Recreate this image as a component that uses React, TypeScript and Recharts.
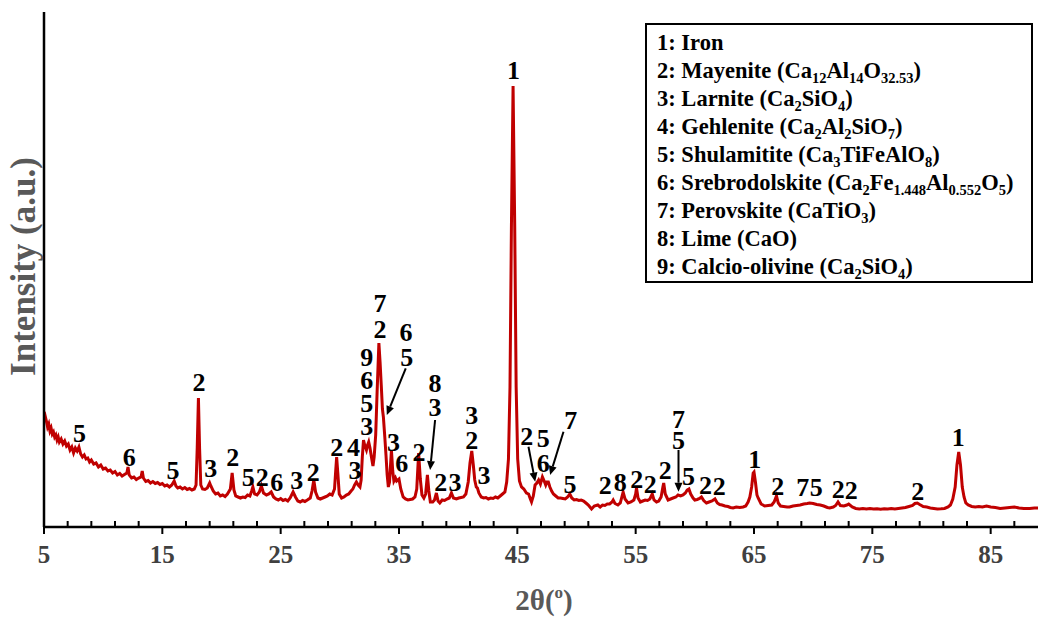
import React from 'react';
import { LineChart, Line, XAxis, YAxis, ReferenceDot, ReferenceLine } from 'recharts';

// XRD scan, [2θ, counts]
const scanLow: [number, number][] = [
  [5.0, 1080], [5.1, 1110], [5.2, 1060], [5.3, 1000], [5.4, 1030], [5.5, 960], [5.6, 990], [5.7, 930],
  [5.8, 950], [5.9, 900], [6.0, 920], [6.1, 870], [6.2, 900], [6.3, 850], [6.45, 880], [6.6, 830],
  [6.75, 860], [6.9, 810], [7.05, 830], [7.2, 770], [7.35, 800], [7.5, 740], [7.65, 790], [7.8, 760],
  [7.95, 800], [8.1, 730], [8.25, 700], [8.4, 720], [8.55, 680], [8.7, 690], [8.85, 650], [9.0, 670],
  [9.2, 630], [9.4, 640], [9.6, 600], [9.8, 620], [10.0, 580], [10.2, 590], [10.4, 560], [10.6, 570],
  [10.8, 540], [11.0, 555], [11.2, 520], [11.4, 535], [11.6, 510], [11.8, 525], [12.0, 540], [12.1, 600],
  [12.2, 520], [12.4, 490], [12.6, 500], [12.8, 475], [13.0, 490], [13.2, 500], [13.3, 560], [13.4, 490],
  [13.6, 455], [13.8, 465], [14.0, 440], [14.2, 455], [14.4, 435], [14.6, 445], [14.8, 425], [15.0, 435],
  [15.2, 410], [15.4, 420], [15.6, 400], [15.8, 420], [16.0, 460], [16.15, 410], [16.3, 390], [16.5, 400],
  [16.7, 380], [16.9, 395], [17.1, 375], [17.3, 385], [17.5, 370], [17.7, 380], [17.85, 420], [17.95, 800],
  [18.05, 1290], [18.15, 780], [18.25, 420], [18.4, 380], [18.6, 375], [18.8, 390], [19.0, 440], [19.1, 410],
  [19.3, 360], [19.5, 330], [19.7, 340], [19.9, 310], [20.1, 320], [20.3, 305], [20.5, 330], [20.75, 380],
  [20.9, 540], [21.05, 370], [21.2, 310], [21.4, 300], [21.6, 290], [21.8, 300], [22.0, 295],
];

const scanMid: [number, number][] = [
  [22.2, 320], [22.4, 310], [22.55, 360], [22.65, 400], [22.8, 330], [23.0, 320], [23.2, 350], [23.37, 410],
  [23.55, 340], [23.8, 320], [24.0, 330], [24.2, 350], [24.4, 300], [24.6, 280], [24.8, 270], [25.0, 285],
  [25.2, 265], [25.4, 275], [25.6, 260], [25.8, 290], [26.05, 350], [26.25, 300], [26.45, 260], [26.65, 250],
  [26.85, 265], [27.05, 255], [27.25, 270], [27.5, 290], [27.65, 360], [27.8, 470], [27.95, 350], [28.15, 290],
  [28.35, 280], [28.55, 290], [28.75, 300], [28.95, 310], [29.15, 330], [29.35, 320], [29.55, 380], [29.65, 560],
  [29.73, 700], [29.83, 540], [29.95, 330], [30.15, 290], [30.35, 300], [30.55, 320], [30.75, 330], [30.95, 360],
  [31.1, 380], [31.25, 420], [31.4, 450], [31.55, 420], [31.7, 400], [31.8, 470], [31.9, 700], [32.0, 870],
  [32.1, 820], [32.25, 770], [32.35, 820], [32.44, 850], [32.55, 790], [32.67, 700], [32.8, 610], [32.9, 700],
  [33.03, 920], [33.15, 1350], [33.3, 1840], [33.4, 1650], [33.5, 1420], [33.6, 1180], [33.68, 1100], [33.8, 900],
  [33.9, 720], [34.0, 520], [34.1, 400], [34.2, 450], [34.36, 770], [34.47, 560], [34.57, 460], [34.7, 490],
  [34.8, 460], [35.0, 480], [35.15, 380], [35.35, 300], [35.55, 280], [35.75, 270], [35.95, 275], [36.15, 280],
  [36.35, 300], [36.5, 380], [36.66, 740], [36.8, 480], [36.94, 320], [37.1, 290], [37.25, 330], [37.4, 520],
  [37.52, 360], [37.65, 250], [37.85, 250], [38.0, 270], [38.16, 340], [38.3, 260], [38.45, 240], [38.65, 270],
  [38.85, 265], [39.05, 280], [39.25, 290], [39.43, 340], [39.6, 290], [39.85, 280], [40.05, 290], [40.25, 295],
  [40.45, 300], [40.65, 330], [40.85, 450], [41.0, 640], [41.15, 760], [41.28, 620], [41.4, 470], [41.53, 400],
  [41.63, 390], [41.75, 340], [41.95, 300], [42.15, 290], [42.35, 295], [42.55, 280], [42.75, 290], [42.95, 285],
  [43.15, 300], [43.35, 290], [43.55, 310], [43.75, 330], [43.95, 350], [44.1, 450], [44.25, 680], [44.38, 1400],
  [44.5, 3000], [44.64, 4410], [44.78, 3000], [44.9, 1400], [45.03, 680], [45.18, 460], [45.35, 400],
];

const scanHigh: [number, number][] = [
  [45.55, 380], [45.77, 340], [45.95, 330], [46.1, 280], [46.2, 250], [46.35, 310], [46.5, 420], [46.65, 440],
  [46.8, 470], [46.95, 430], [47.12, 500], [47.27, 460], [47.4, 420], [47.5, 450], [47.62, 450], [47.75, 400],
  [47.9, 360], [48.05, 330], [48.25, 310], [48.45, 290], [48.65, 290], [48.85, 285], [49.05, 280], [49.25, 300],
  [49.43, 330], [49.6, 290], [49.8, 270], [50.0, 275], [50.2, 265], [50.4, 270], [50.6, 260], [50.8, 240],
  [51.0, 220], [51.27, 180], [51.5, 210], [51.8, 220], [52.0, 200], [52.2, 220], [52.4, 215], [52.6, 230],
  [52.8, 230], [53.0, 250], [53.1, 270], [53.25, 235], [53.5, 220], [53.7, 240], [53.94, 350], [54.1, 280],
  [54.36, 240], [54.6, 250], [54.85, 270], [55.0, 330], [55.07, 390], [55.2, 290], [55.4, 250], [55.6, 260],
  [55.8, 270], [56.0, 265], [56.2, 280], [56.4, 330], [56.55, 270], [56.76, 250], [56.95, 260], [57.15, 300],
  [57.3, 400], [57.37, 440], [57.5, 330], [57.74, 270], [57.95, 280], [58.16, 290], [58.4, 300], [58.58, 320],
  [58.8, 310], [59.0, 320], [59.2, 340], [59.35, 370], [59.5, 380], [59.65, 330], [59.85, 290], [60.0, 270],
  [60.2, 275], [60.4, 285], [60.56, 300], [60.75, 265], [60.98, 240], [61.2, 250], [61.45, 260], [61.7, 280],
  [61.9, 240], [62.1, 225], [62.3, 220], [62.55, 210], [62.8, 205], [63.0, 195], [63.23, 190], [63.5, 200],
  [63.8, 195], [64.08, 200], [64.3, 210], [64.5, 250], [64.65, 300], [64.8, 400], [64.93, 540], [65.0, 550],
  [65.12, 450], [65.25, 320], [65.35, 290], [65.6, 230], [65.9, 210], [66.2, 215], [66.5, 220], [66.7, 250],
  [66.9, 310], [67.05, 240], [67.24, 210], [67.5, 205], [67.8, 200], [68.0, 200], [68.3, 210], [68.6, 215],
  [68.9, 220], [69.2, 230], [69.5, 235], [69.7, 240], [70.0, 235], [70.3, 225], [70.6, 220], [70.9, 210],
  [71.2, 195], [71.4, 190], [71.7, 200], [71.9, 215], [72.1, 250], [72.3, 215], [72.6, 210], [72.85, 220],
  [73.0, 230], [73.3, 200], [73.6, 185], [73.9, 180], [74.2, 185], [74.5, 180], [74.8, 185], [75.1, 180],
  [75.4, 182], [75.7, 178], [76.0, 182], [76.3, 180], [76.6, 185], [76.9, 180], [77.2, 185], [77.5, 190],
  [77.8, 195], [78.1, 205], [78.4, 215], [78.6, 235], [78.8, 240], [79.0, 225], [79.3, 205], [79.6, 200],
  [79.9, 190], [80.2, 185], [80.5, 180], [80.8, 182], [81.1, 185], [81.4, 200], [81.6, 220], [81.8, 280],
  [82.0, 400], [82.15, 620], [82.3, 750], [82.45, 620], [82.6, 400], [82.75, 300], [82.9, 240], [83.1, 220],
  [83.4, 205], [83.7, 200], [84.0, 205], [84.3, 200], [84.65, 210], [85.0, 200], [85.4, 195], [85.8, 185],
  [86.2, 190], [86.6, 195], [87.0, 200], [87.4, 190], [87.8, 185], [88.3, 185], [88.7, 190], [89.0, 190],
];

// phase labels: [2θ, counts level, text]
const peakLabels: [number, number, string][] = [
  [8.0, 940, '5'], [12.2, 700, '6'], [15.9, 570, '5'], [18.1, 1450, '2'], [19.1, 590, '3'], [20.95, 700, '2'],
  [22.27, 500, '5'], [23.45, 500, '2'], [24.67, 450, '6'], [26.36, 470, '3'], [27.76, 550, '2'],
  [29.74, 800, '2'], [31.15, 800, '4'], [31.29, 570, '3'],
  [32.28, 1010, '3'], [32.28, 1240, '5'], [32.28, 1470, '6'], [32.28, 1700, '9'],
  [33.4, 1980, '2'], [33.4, 2240, '7'], [35.6, 1950, '6'], [35.66, 1700, '5'],
  [34.53, 850, '3'], [35.24, 640, '6'], [36.7, 750, '2'], [38.05, 1440, '8'], [38.05, 1200, '3'],
  [38.53, 450, '2'], [39.74, 450, '3'], [41.15, 1120, '3'], [41.15, 870, '2'], [42.19, 520, '3'],
  [44.67, 4570, '1'], [45.8, 910, '2'], [47.2, 890, '5'], [47.2, 640, '6'], [49.52, 1070, '7'], [49.46, 430, '5'],
  [52.42, 420, '2'], [53.69, 450, '8'], [55.1, 480, '2'], [56.23, 430, '2'], [57.5, 570, '2'],
  [58.62, 1080, '7'], [58.62, 870, '5'], [59.46, 510, '5'], [60.9, 420, '2'], [62.06, 405, '2'],
  [65.06, 680, '1'], [67.0, 410, '2'], [69.12, 400, '7'], [70.26, 400, '5'], [72.12, 375, '2'],
  [73.22, 370, '2'], [78.84, 360, '2'], [82.26, 900, '1'],
];

// pointer arrows: [2θ from, level from, 2θ to, level to]
const arrows: [number, number, number, number][] = [
  [35.57, 1587, 33.97, 1120],
  [38.05, 1070, 37.63, 570],
  [45.94, 803, 46.51, 453],
  [48.9, 953, 47.77, 520],
  [58.62, 770, 58.62, 353],
];

const phases: string[] = [
  '1: Iron',
  '2: Mayenite (Ca_12Al_14O_32.53)',
  '3: Larnite (Ca_2SiO_4)',
  '4: Gehlenite (Ca_2Al_2SiO_7)',
  '5: Shulamitite (Ca_3TiFeAlO_8)',
  '6: Srebrodolskite (Ca_2Fe_1.448Al_0.552O_5)',
  '7: Perovskite (CaTiO_3)',
  '8: Lime (CaO)',
  '9: Calcio-olivine (Ca_2SiO_4)',
];

const xTicks = [5, 7, 9, 11, 13, 15, 17, 19, 21, 23, 25, 27, 29, 31, 33, 35, 37, 39, 41, 43, 45, 47, 49, 51, 53, 55,
  57, 59, 61, 63, 65, 67, 69, 71, 73, 75, 77, 79, 81, 83, 85, 87];

const data = [...scanLow, ...scanMid, ...scanHigh].map(([t, i]) => ({ t, i }));

const SERIF = '"Liberation Serif", "Times New Roman", serif';

const AxisTick = (props: any) => {
  const { x, y, payload } = props;
  const major = (payload.value - 5) % 10 === 0;
  return (
    <g>
      {major ? (
        <line x1={x} y1={y} x2={x} y2={y + 7} stroke="#000" strokeWidth={2} />
      ) : (
        <line x1={x} y1={y} x2={x} y2={y - 6} stroke="#000" strokeWidth={2} />
      )}
      {major && (
        <text x={x} y={y + 36} textAnchor="middle" fontFamily={SERIF} fontWeight="bold" fontSize={25} fill="#404040">
          {payload.value}
        </text>
      )}
    </g>
  );
};

const arrowShape = (p: any) => {
  const { x1, y1, x2, y2 } = p;
  const dx = x2 - x1;
  const dy = y2 - y1;
  const len = Math.sqrt(dx * dx + dy * dy);
  const ux = dx / len;
  const uy = dy / len;
  const hl = 9;
  const hw = 4;
  const bx = x2 - ux * hl;
  const by = y2 - uy * hl;
  return (
    <g>
      <line x1={x1} y1={y1} x2={bx} y2={by} stroke="#000" strokeWidth={2} />
      <polygon
        points={`${x2},${y2} ${bx - uy * hw},${by + ux * hw} ${bx + uy * hw},${by - ux * hw}`}
        fill="#000"
      />
    </g>
  );
};

function Formula({ text }: { text: string }) {
  const parts = text.split(/(_[\d.]+)/);
  return (
    <>
      {parts.map((s, k) =>
        s.startsWith('_') ? (
          <span key={k} style={{ fontSize: 14.5, lineHeight: 0, position: 'relative', top: 5 }}>
            {s.slice(1)}
          </span>
        ) : (
          <span key={k}>{s}</span>
        )
      )}
    </>
  );
}

export default function App() {
  return (
    <div style={{ position: 'absolute', left: 0, top: 0, width: 1038, height: 617, background: '#fff' }}>
      <LineChart width={1038} height={617} data={data} margin={{ top: 12, right: 0, bottom: 0, left: 0 }}>
        <XAxis
          dataKey="t"
          type="number"
          domain={[5, 89]}
          ticks={xTicks}
          interval={0}
          tickSize={0}
          tickMargin={0}
          tickLine={false}
          tick={<AxisTick />}
          height={90}
          axisLine={{ stroke: '#000', strokeWidth: 2.5 }}
          allowDataOverflow
          label={{
            content: (p: any) => {
              const vb = p.viewBox;
              return (
                <text
                  x={vb.x + vb.width / 2 + 3}
                  y={vb.y + 83}
                  textAnchor="middle"
                  fontFamily={SERIF}
                  fontWeight="bold"
                  fontSize={29}
                  fill="#595959"
                >
                  2θ(
                  <tspan fontSize={17} dy={-12}>
                    o
                  </tspan>
                  <tspan dy={12}>)</tspan>
                </text>
              );
            },
          }}
        />
        <YAxis
          type="number"
          domain={[0, 5150]}
          width={44}
          tick={false}
          tickLine={false}
          axisLine={{ stroke: '#000', strokeWidth: 2.5 }}
          allowDataOverflow
          label={{
            content: (p: any) => {
              const vb = p.viewBox;
              const cx = 23;
              const cy = vb.y + vb.height / 2 - 3;
              return (
                <text
                  x={cx}
                  y={cy}
                  transform={`rotate(-90, ${cx}, ${cy})`}
                  textAnchor="middle"
                  dominantBaseline="central"
                  fontFamily={SERIF}
                  fontWeight="bold"
                  fontSize={35}
                  fill="#595959"
                >
                  Intensity (a.u.)
                </text>
              );
            },
          }}
        />
        <Line
          type="linear"
          dataKey="i"
          stroke="#C00000"
          strokeWidth={3}
          dot={false}
          isAnimationActive={false}
        />
        {arrows.map(([a, b, c, d], k) => (
          <ReferenceLine
            key={'ar' + k}
            segment={[
              { x: a, y: b },
              { x: c, y: d },
            ]}
            ifOverflow="visible"
            shape={arrowShape}
          />
        ))}
        {peakLabels.map(([t, lvl, s], k) => (
          <ReferenceDot
            key={'pl' + k}
            x={t}
            y={lvl}
            r={0}
            ifOverflow="visible"
            shape={(p: any) => (
              <text
                x={p.cx}
                y={p.cy}
                textAnchor="middle"
                dominantBaseline="central"
                fontFamily={SERIF}
                fontWeight="bold"
                fontSize={26}
                fill="#000"
              >
                {s}
              </text>
            )}
          />
        ))}
      </LineChart>
      <div
        style={{
          position: 'absolute',
          left: 645,
          top: 23,
          width: 388,
          height: 260,
          border: '2px solid #000',
          background: '#fff',
          padding: '4px 0 0 10px',
          boxSizing: 'border-box',
          fontFamily: SERIF,
          fontWeight: 'bold',
          fontSize: 22.5,
          color: '#000',
          whiteSpace: 'nowrap',
        }}
      >
        {phases.map((ph) => (
          <div key={ph} style={{ height: 28, lineHeight: '28px' }}>
            <Formula text={ph} />
          </div>
        ))}
      </div>
    </div>
  );
}
